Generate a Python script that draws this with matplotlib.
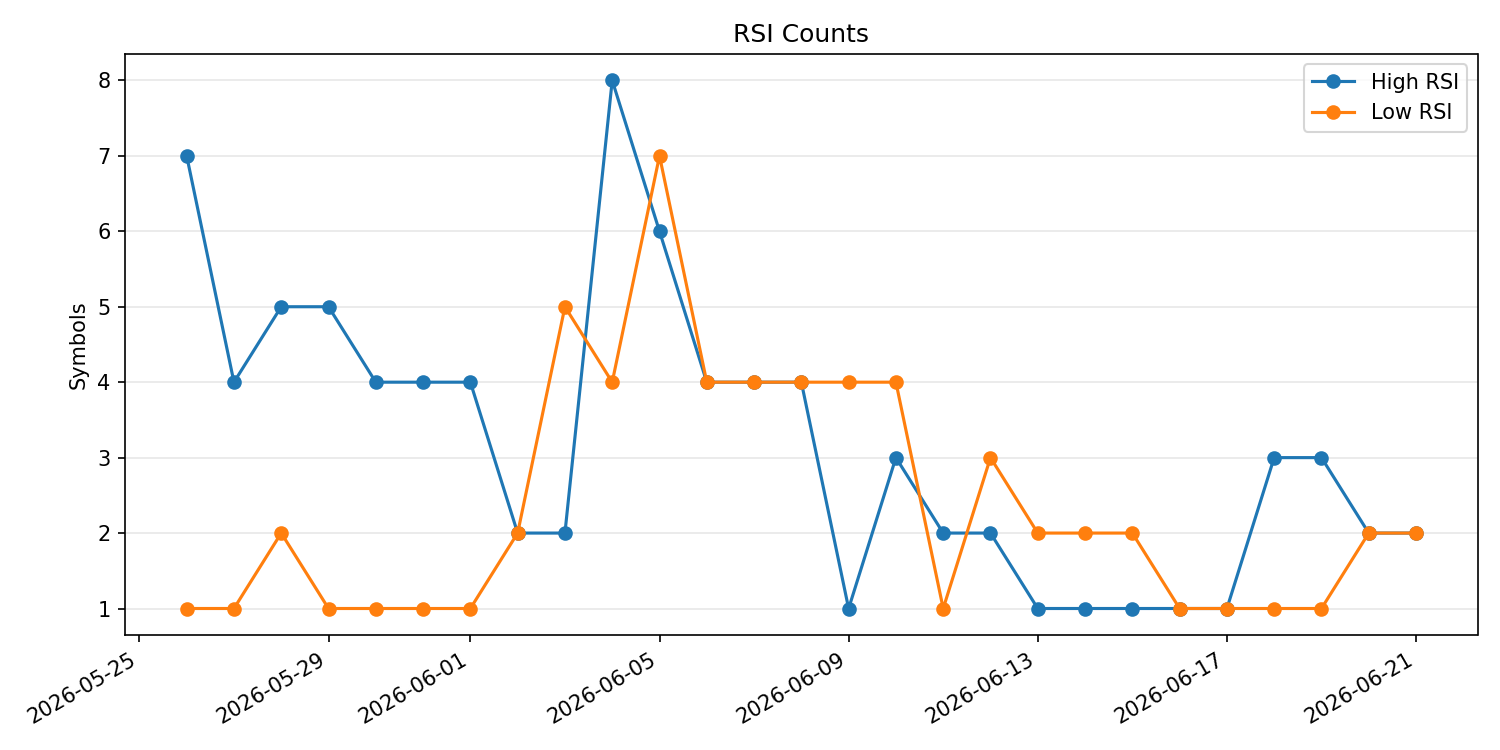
import matplotlib
matplotlib.use("Agg")
import matplotlib.pyplot as plt
import matplotlib.dates as mdates
import pandas as pd

dates = pd.date_range("2026-05-26", "2026-06-21", freq="D")
high_rsi = [7, 4, 5, 5, 4, 4, 4, 2, 2, 8, 6, 4, 4, 4, 1, 3, 2, 2, 1, 1, 1, 1, 1, 3, 3, 2, 2]
low_rsi = [1, 1, 2, 1, 1, 1, 1, 2, 5, 4, 7, 4, 4, 4, 4, 4, 1, 3, 2, 2, 2, 1, 1, 1, 1, 2, 2]

fig, ax = plt.subplots(figsize=(10, 5), dpi=150)
ax.plot(dates, high_rsi, marker="o", label="High RSI")
ax.plot(dates, low_rsi, marker="o", label="Low RSI")
ax.set_title("RSI Counts")
ax.set_ylabel("Symbols")
ax.grid(axis="y", alpha=0.3)
ax.legend()
ax.xaxis.set_major_locator(mdates.DayLocator(bymonthday=[1, 5, 9, 13, 17, 21, 25, 29]))
ax.xaxis.set_major_formatter(mdates.DateFormatter("%Y-%m-%d"))
fig.autofmt_xdate()
fig.tight_layout()
fig.savefig("out.png", dpi=150)
